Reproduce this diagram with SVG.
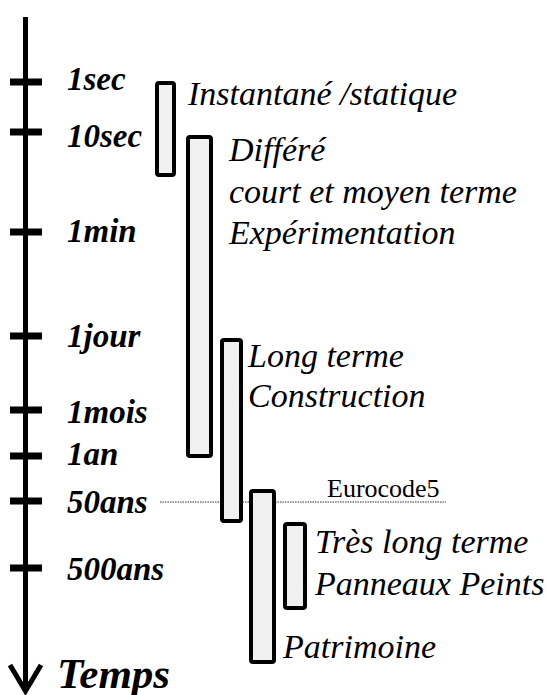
<svg xmlns="http://www.w3.org/2000/svg" width="547" height="695" viewBox="0 0 547 695">
<style>
.lbl{font-family:"Liberation Serif","Times New Roman",Times,serif;font-weight:bold;font-style:italic;font-size:33px;fill:#000}
.txt{font-family:"Liberation Serif","Times New Roman",Times,serif;font-style:italic;font-size:34px;fill:#000}
.reg{font-family:"Liberation Serif","Times New Roman",Times,serif;font-size:26px;fill:#000}
.bar{fill:#f0f0f0;stroke:#000;stroke-width:4}
.tick{stroke:#000;stroke-width:7}
</style>
<rect width="547" height="695" fill="#fff"/>
<g id="axis">
  <line x1="25.5" y1="17" x2="25.5" y2="690" stroke="#000" stroke-width="5"/>
  <polyline points="10,665 25.5,691 41,665" fill="none" stroke="#000" stroke-width="5"/>
  <line class="tick" x1="10" y1="82" x2="42" y2="82"/>
  <line class="tick" x1="10" y1="132" x2="42" y2="132"/>
  <line class="tick" x1="10" y1="232" x2="42" y2="232"/>
  <line class="tick" x1="10" y1="336" x2="42" y2="336"/>
  <line class="tick" x1="10" y1="410" x2="42" y2="410"/>
  <line class="tick" x1="10" y1="456" x2="42" y2="456"/>
  <line class="tick" x1="10" y1="501" x2="42" y2="501"/>
  <line class="tick" x1="10" y1="568" x2="42" y2="568"/>
  <text class="lbl" x="67" y="90">1sec</text>
  <text class="lbl" x="67" y="147">10sec</text>
  <text class="lbl" x="67" y="242">1min</text>
  <text class="lbl" x="67" y="347">1jour</text>
  <text class="lbl" x="67" y="423">1mois</text>
  <text class="lbl" x="67" y="465">1an</text>
  <text class="lbl" x="67" y="513">50ans</text>
  <text class="lbl" x="67" y="580">500ans</text>
  <text class="lbl" x="57" y="688" style="font-size:43px">Temps</text>
</g>
<g id="connectors">
  <line x1="160" y1="502" x2="446" y2="502" stroke="#333" stroke-width="1" stroke-dasharray="1.5 1"/>
</g>
<g id="instantane">
  <rect class="bar" x="157" y="83" width="17" height="92" rx="2"/>
  <text class="txt" x="188" y="105">Instantané /statique</text>
</g>
<g id="differe">
  <rect class="bar" x="188" y="137" width="23" height="319" rx="2"/>
  <text class="txt" x="229" y="161">Différé</text>
  <text class="txt" x="229" y="203">court et moyen terme</text>
  <text class="txt" x="229" y="244">Expérimentation</text>
</g>
<g id="longterme">
  <rect class="bar" x="222" y="340" width="19" height="181" rx="2"/>
  <text class="txt" x="248" y="367">Long terme</text>
  <text class="txt" x="248" y="407">Construction</text>
</g>
<g id="eurocode">
  <text class="reg" x="327" y="497">Eurocode5</text>
</g>
<g id="patrimoine">
  <rect class="bar" x="251" y="491" width="23" height="171" rx="2"/>
  <text class="txt" x="283" y="658">Patrimoine</text>
</g>
<g id="treslong">
  <rect class="bar" x="285" y="524" width="20" height="84" rx="2"/>
  <text class="txt" x="315" y="553">Très long terme</text>
  <text class="txt" x="315" y="595">Panneaux Peints</text>
</g>
</svg>
